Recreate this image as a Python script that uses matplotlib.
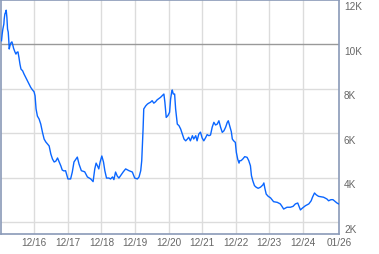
import matplotlib
matplotlib.use("Agg")
import matplotlib.pyplot as plt
from matplotlib.transforms import offset_copy

# x positions in units of tick intervals (12/16 = 1 ... 12/24 = 9)
x = [0.02, 0.04, 0.06, 0.09, 0.10, 0.12, 0.14, 0.16, 0.18, 0.20,
     0.22, 0.24, 0.25, 0.27, 0.30, 0.33, 0.35, 0.38, 0.42, 0.45,
     0.48, 0.51, 0.54, 0.57, 0.60, 0.65, 0.69, 0.74, 0.79, 0.84,
     0.89, 0.94, 0.99, 1.02, 1.05, 1.09, 1.14, 1.19, 1.24, 1.29,
     1.34, 1.39, 1.44, 1.49, 1.54, 1.59, 1.64, 1.69, 1.74, 1.79,
     1.83, 1.88, 1.93, 2.00, 2.08, 2.13, 2.18, 2.28, 2.33, 2.40,
     2.50, 2.58, 2.68, 2.75, 2.80, 2.84, 2.88, 2.92, 2.96, 3.01,
     3.06, 3.10, 3.15, 3.22, 3.27, 3.33, 3.37, 3.42, 3.47, 3.52,
     3.57, 3.65, 3.72, 3.82, 3.92, 3.99, 4.07, 4.12, 4.17, 4.20,
     4.22, 4.24, 4.26, 4.32, 4.37, 4.41, 4.46, 4.51, 4.56, 4.61,
     4.66, 4.76, 4.86, 4.89, 4.93, 4.98, 5.03, 5.06, 5.09, 5.11,
     5.14, 5.18, 5.21, 5.26, 5.31, 5.36, 5.41, 5.46, 5.51, 5.56,
     5.60, 5.65, 5.71, 5.75, 5.81, 5.85, 5.90, 5.95, 6.00, 6.05,
     6.10, 6.15, 6.20, 6.25, 6.30, 6.35, 6.40, 6.45, 6.50, 6.55,
     6.60, 6.65, 6.70, 6.75, 6.78, 6.82, 6.87, 6.90, 6.94, 6.99,
     7.02, 7.06, 7.10, 7.12, 7.16, 7.21, 7.27, 7.34, 7.39, 7.44,
     7.47, 7.51, 7.56, 7.61, 7.67, 7.74, 7.81, 7.84, 7.87, 7.91,
     7.97, 8.04, 8.13, 8.24, 8.33, 8.38, 8.43, 8.53, 8.63, 8.71,
     8.78, 8.85, 8.88, 8.93, 8.98, 9.08, 9.18, 9.25, 9.29, 9.35,
     9.40, 9.47, 9.62, 9.72, 9.77, 9.84, 9.90, 9.97, 10.02, 10.07]

values = [10150, 10450, 10670, 10900, 11120, 11350, 11420, 11520, 11210, 10670,
          10540, 10090, 9780, 9920, 10050, 10100, 10000, 9810, 9650, 9550,
          9630, 9650, 9400, 9100, 8880, 8800, 8660, 8510, 8350, 8210,
          8060, 7950, 7860, 7680, 7090, 6770, 6640, 6410, 6050, 5740,
          5610, 5520, 5430, 5070, 4840, 4710, 4750, 4890, 4710, 4530,
          4350, 4310, 4320, 3950, 3950, 4260, 4710, 4930, 4620, 4320,
          4270, 4040, 3950, 3830, 4400, 4660, 4540, 4400, 4710, 4980,
          4710, 4320, 3990, 3990, 3950, 4040, 3920, 4260, 4080, 3990,
          4100, 4270, 4400, 4320, 4260, 3990, 3950, 4040, 4320, 4770,
          5440, 6190, 7090, 7230, 7310, 7350, 7390, 7460, 7350, 7410,
          7500, 7610, 7760, 7390, 6710, 6790, 6940, 7530, 7830, 7940,
          7760, 7760, 7090, 6410, 6340, 6190, 5960, 5740, 5660, 5740,
          5820, 5660, 5890, 5740, 5890, 5660, 5960, 6050, 5790, 5660,
          5790, 5940, 5890, 5920, 6270, 6490, 6370, 6410, 6560, 6270,
          6040, 6110, 6270, 6490, 6560, 6340, 6070, 5740, 5660, 5590,
          5140, 4840, 4660, 4770, 4770, 4840, 4950, 4920, 4770, 4540,
          4100, 3870, 3650, 3580, 3530, 3580, 3680, 3770, 3530, 3270,
          3170, 3100, 2930, 2900, 2830, 2720, 2600, 2680, 2680, 2720,
          2830, 2870, 2750, 2560, 2630, 2750, 2830, 2970, 3130, 3320,
          3240, 3170, 3130, 3050, 2970, 3020, 3020, 2930, 2870, 2830]

x_ticks = [1, 2, 3, 4, 5, 6, 7, 8, 9, 10.08]
x_tick_labels = ["12/16", "12/17", "12/18", "12/19", "12/20",
                 "12/21", "12/22", "12/23", "12/24", "01/26"]
y_ticks = [2000, 4000, 6000, 8000, 10000, 12000]
y_tick_labels = ["2K", "4K", "6K", "8K", "10K", "12K"]
ref_level = 10000

plt.rcParams['font.family'] = ['Liberation Sans', 'DejaVu Sans']

W, H = 379, 255
fig = plt.figure(figsize=(W / 100, H / 100), dpi=100)
ax = fig.add_axes([0.5 / W, 20 / H, 338.5 / W, 234.5 / H])

ax.set_xlim(-0.01, 10.08)
ax.set_ylim(1480, 12000)

border = "#8a9ab8"
for s in ax.spines.values():
    s.set_color(border)
    s.set_linewidth(1.2)

# grid
for t in x_ticks[:-1]:
    ax.axvline(t, color="#dcdcdc", lw=1.0, zorder=1)
for t in y_ticks[:-1]:
    if t == ref_level:
        continue
    ax.axhline(t, color="#dcdcdc", lw=1.0, zorder=1)
ax.axhline(ref_level, color="#999999", lw=1.0, zorder=2)

ax.plot(x, values, color="#0a66ff", lw=1.0, zorder=3)

ax.set_xticks(x_ticks)
ax.set_xticklabels(x_tick_labels)
ax.tick_params(axis='x', length=0, pad=2.2, labelsize=7.2, labelcolor="#666666")
ax.set_yticks([])

trans = offset_copy(ax.get_yaxis_transform(), fig=fig, x=5, y=-6.5, units='dots')
for v, lab in zip(y_ticks, y_tick_labels):
    ax.text(1.0, v, lab, transform=trans, ha='left', va='center',
            fontsize=7.2, color="#666666")

fig.savefig("out.png", dpi=100)
